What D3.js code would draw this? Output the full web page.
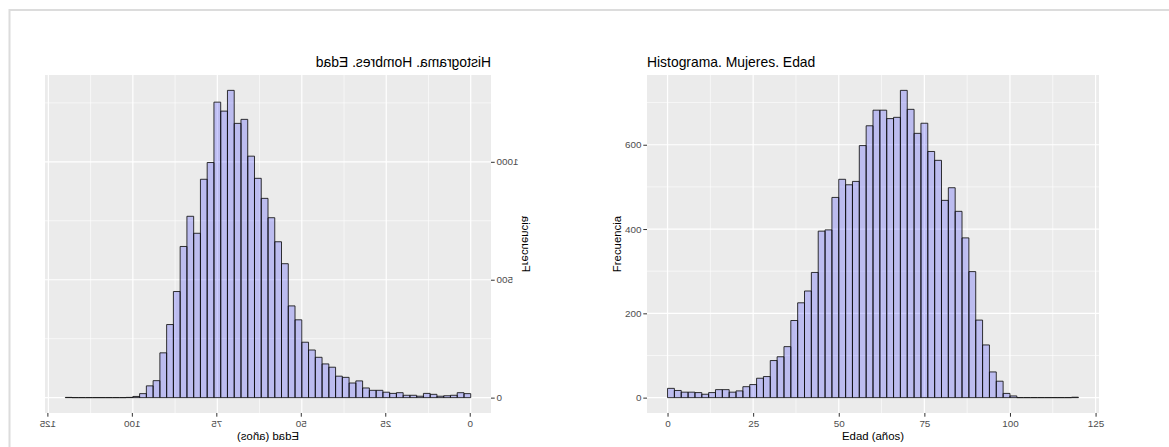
<!DOCTYPE html>
<html><head><meta charset="utf-8">
<script src="https://cdn.jsdelivr.net/npm/d3@7"></script>
<style>
html,body{margin:0;padding:0;background:#fff;}
svg{display:block;font-family:"Liberation Sans",Arial,sans-serif;}
</style>
</head><body>
<svg id="c" width="1169" height="447"></svg>
<script>
// ---- data ----
const binWidth = 2;
const binStarts = d3.range(0, 120, binWidth); // 0,2,...,118
const hombres = [17,21,10,8,6,14,18,6,10,10,21,18,23,31,31,41,71,62,86,91,
  129,143,171,202,235,330,389,568,661,763,845,930,1024,1180,1163,1303,1215,1253,997,926,
  697,769,641,450,310,190,72,50,17,5,1,0,0,0,0,0,0,0,0,1];
const mujeres = [22,17,13,13,12,8,12,19,19,13,16,26,31,46,50,88,97,121,183,225,
  253,297,395,398,475,518,505,513,598,645,682,682,662,665,729,684,627,651,584,563,
  468,498,442,379,299,184,125,61,39,10,4,0,0,0,0,0,0,0,0,1];
const xTicks = [0,25,50,75,100,125];
const xMinor = [12.5,37.5,62.5,87.5,112.5];
const yTicksH = [0,500,1000];
const yMinorH = [250,750,1250];
const yTicksM = [0,200,400,600];
const yMinorM = [100,300,500,700];
const titleH = "Histograma. Hombres. Edad";
const titleM = "Histograma. Mujeres. Edad";
const xLabel = "Edad (años)";
const yLabel = "Frecuencia";

const svg = d3.select("#c");

// frame
svg.append("path").attr("d","M9.5,447 V10 H1169").attr("fill","none")
  .attr("stroke","#dcdcdc").attr("stroke-width",2);

function panel(g, o){
  const T = 75, B = 413;
  const x = d3.scaleLinear().domain([-6,126]).range([o.L,o.R]);
  const mx = d3.max(o.values);
  const y = d3.scaleLinear().domain([-mx*0.05, mx*1.05]).range([B,T]);

  g.append("rect").attr("x",o.L).attr("y",T).attr("width",o.R-o.L).attr("height",B-T).attr("fill","#EBEBEB");
  // minor grid
  g.selectAll(".gxm").data(xMinor).join("line").attr("x1",d=>x(d)).attr("x2",d=>x(d)).attr("y1",T).attr("y2",B)
    .attr("stroke","#fff").attr("stroke-width",0.6);
  g.selectAll(".gym").data(o.yMinor).join("line").attr("y1",d=>y(d)).attr("y2",d=>y(d)).attr("x1",o.L).attr("x2",o.R)
    .attr("stroke","#fff").attr("stroke-width",0.6);
  // major grid
  g.selectAll(".gx").data(xTicks).join("line").attr("x1",d=>x(d)).attr("x2",d=>x(d)).attr("y1",T).attr("y2",B)
    .attr("stroke","#fff").attr("stroke-width",1.2);
  g.selectAll(".gy").data(o.yTicks).join("line").attr("y1",d=>y(d)).attr("y2",d=>y(d)).attr("x1",o.L).attr("x2",o.R)
    .attr("stroke","#fff").attr("stroke-width",1.2);

  // bars
  const bins = binStarts.map((s,i)=>({x0:s,x1:s+binWidth,v:o.values[i]}));
  g.append("g").selectAll("path").data(bins).join("path")
    .attr("d",d=>`M${x(d.x0)},${y(0)}V${y(d.v)}H${x(d.x1)}V${y(0)}Z`)
    .attr("fill","blue").attr("fill-opacity",0.2)
    .attr("stroke","#111").attr("stroke-width",1).attr("stroke-opacity",0.85);

  // axes
  const fmt = d3.format("d");
  const ax = g.append("g").attr("transform",`translate(0,${B})`)
    .call(d3.axisBottom(x).tickValues(xTicks).tickFormat(fmt).tickSize(3.7).tickPadding(3.3));
  const ay = g.append("g").attr("transform",`translate(${o.L},0)`)
    .call(d3.axisLeft(y).tickValues(o.yTicks).tickFormat(fmt).tickSize(3.7).tickPadding(1.8));
  [ax,ay].forEach(a=>{
    a.select(".domain").remove();
    a.selectAll("line").attr("stroke","#333").attr("stroke-width",1);
    a.selectAll("text").attr("fill","#4D4D4D").attr("font-size","9.9px")
      .attr("font-family","'Liberation Sans',Arial,sans-serif");
  });

  g.append("text").attr("x",o.L).attr("y",67).attr("font-size","13.9px").attr("fill","#000").text(o.title);
  g.append("text").attr("x",(o.L+o.R)/2).attr("y",440).attr("text-anchor","middle")
    .attr("font-size","11.4px").attr("fill","#000").text(xLabel);
  g.append("text").attr("transform",`translate(${o.L-o.yOff},${(T+B)/2}) rotate(-90)`)
    .attr("text-anchor","middle").attr("font-size","11.4px").attr("fill","#000").text(yLabel);
}

// left panel (mirrored horizontally)
const gl = svg.append("g").attr("transform","translate(536,0) scale(-1,1)");
panel(gl,{L:45,R:491,values:hombres,yTicks:yTicksH,yMinor:yMinorH,title:titleH,yOff:31});
// right panel
const gr = svg.append("g");
panel(gr,{L:647,R:1099,values:mujeres,yTicks:yTicksM,yMinor:yMinorM,title:titleM,yOff:26});
</script>
</body></html>
